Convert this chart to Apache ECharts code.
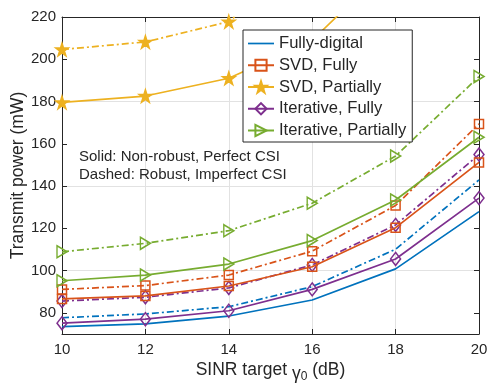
<!DOCTYPE html>
<html>
<head>
<meta charset="utf-8">
<script src="https://cdn.jsdelivr.net/npm/echarts@6/dist/echarts.min.js"></script>
<style>
html,body{margin:0;padding:0;background:#fff;}
#c{width:488px;height:387px;}
</style>
</head>
<body>
<div id="c"></div>
<script>
// ---- data ----
var snr = [10, 12, 14, 16, 18, 20];
var yTicks = [80, 100, 120, 140, 160, 180, 200, 220];
var fdSolid   = [73.5, 74.8, 78.5, 86.1, 100.8, 127.9];
var fdDash    = [77.7, 79.5, 82.9, 92.4, 110.1, 142.9];
var svdFSolid = [86.6, 88.0, 92.7, 101.8, 120.3, 151.2];
var svdFDash  = [91.1, 92.9, 97.9, 109.2, 130.8, 169.4];
var svdPSolid = [179.6, 182.6, 191.0, 209.0, 247, 290];
var svdPDash  = [204.6, 208.2, 217.8, 250, 290, 340];
var itFSolid  = [75.1, 77.0, 81.0, 91.1, 105.5, 134.3];
var itFDash   = [85.6, 87.4, 91.8, 102.7, 121.6, 154.9];
var itPSolid  = [95.2, 97.9, 103.1, 114.2, 133.4, 163.1];
var itPDash   = [108.9, 112.9, 118.9, 131.9, 154.2, 191.8];
var names = ['Fully-digital', 'SVD, Fully', 'SVD, Partially', 'Iterative, Fully', 'Iterative, Partially'];

var C = {blue:'#0072BD', orange:'#D95319', yellow:'#EDB120', purple:'#7E2F8E', green:'#77AC30'};
var TXT = '#262626';
var GRID = '#e2e2e2';
var FONT = "'Liberation Sans', Arial, Helvetica, sans-serif";
var STAR = 'path://M50,0 L61.2,34.5 L97.6,34.5 L68.2,55.9 L79.4,90.5 L50,69.1 L20.6,90.5 L31.8,55.9 L2.4,34.5 L38.8,34.5 Z';
var TRI_R = 'path://M0,0 L10,6 L0,12 Z';
var LINE_ICON = 'path://M0,0 L26,0 L26,1.7 L0,1.7 Z';
var DASHDOT = [7, 3, 2, 3];

function pts(arr){ return snr.map(function(x,i){ return [x, arr[i]]; }); }

function mk(name, arr, color, dashed, symbol, size, filled){
  return {
    type:'line', name:name, data:pts(arr),
    symbol: symbol || 'none', symbolSize: size || 8,
    showSymbol: !!symbol,
    lineStyle:{color:color, width:1.7, type: dashed ? DASHDOT : 'solid'},
    itemStyle:{color: filled ? color : 'rgba(255,255,255,0)', borderColor:color, borderWidth:1.5},
    emphasis:{disabled:true},
    clip:true, z: dashed ? 2 : 3
  };
}

var series = [
  mk(names[0], fdSolid, C.blue, false, null, 8, true),
  mk(names[1], svdFSolid, C.orange, false, 'rect', 9),
  mk(names[2], svdPSolid, C.yellow, false, STAR, 12.5, true),
  mk(names[3], itFSolid, C.purple, false, 'diamond', [10,13]),
  mk(names[4], itPSolid, C.green, false, TRI_R, [10,12]),
  mk(names[0]+' (robust)', fdDash, C.blue, true),
  mk(names[1]+' (robust)', svdFDash, C.orange, true, 'rect', 9),
  mk(names[2]+' (robust)', svdPDash, C.yellow, true, STAR, 12.5, true),
  mk(names[3]+' (robust)', itFDash, C.purple, true, 'diamond', [10,13]),
  mk(names[4]+' (robust)', itPDash, C.green, true, TRI_R, [10,12])
];

var axisLine = {show:true, onZero:false, lineStyle:{color:TXT, width:1}};

var legendData = names.map(function(n, i){
  if (i === 0) return {name:n, icon:LINE_ICON, itemStyle:{color:C.blue, borderWidth:0}};
  return {name:n};
});

var option = {
  animation:false,
  backgroundColor:'#fff',
  textStyle:{fontFamily:FONT},
  grid:{left:62, right:9, top:17, bottom:53, containLabel:false, outerBoundsMode:'none'},
  xAxis:[{
    type:'value', min:10, max:20, interval:2, position:'bottom',
    axisLine:axisLine,
    axisTick:{show:true, inside:true, length:5, lineStyle:{color:TXT}},
    axisLabel:{color:TXT, fontSize:15, margin:8, fontFamily:FONT},
    splitLine:{show:true, lineStyle:{color:GRID, width:1}},
    name:'{a|SINR target }{g|\u03b3}{s|0}{a| (dB)}', nameLocation:'middle', nameGap:23,
    nameMoveOverlap:false,
    nameTextStyle:{color:TXT, fontFamily:FONT, fontSize:17.5,
      rich:{
        a:{fontSize:17.5, color:TXT, fontFamily:FONT, lineHeight:26, verticalAlign:'middle'},
        g:{fontSize:17.5, color:TXT, fontFamily:FONT, lineHeight:22, verticalAlign:'bottom'},
        s:{fontSize:12, color:TXT, fontFamily:FONT, lineHeight:12, verticalAlign:'bottom'}
      }}
  },{
    type:'value', min:10, max:20, interval:2, position:'top',
    axisLine:axisLine,
    axisTick:{show:true, inside:true, length:5, lineStyle:{color:TXT}},
    axisLabel:{show:false}, splitLine:{show:false}
  }],
  yAxis:[{
    type:'value', min:70, max:220, interval:10, position:'left',
    axisLine:axisLine,
    axisTick:{show:true, inside:true, length:5, customValues:yTicks, lineStyle:{color:TXT}},
    axisLabel:{color:TXT, fontSize:15, margin:6, fontFamily:FONT, customValues:yTicks,
      formatter:function(v){ return (v % 20 === 0) ? String(v) : ''; }},
    splitLine:{show:true, lineStyle:{color:['rgba(0,0,0,0)', GRID], width:1}},
    name:'Transmit power (mW)', nameLocation:'middle', nameGap:35,
    nameMoveOverlap:false,
    nameTextStyle:{color:TXT, fontSize:17.5, fontFamily:FONT}
  },{
    type:'value', min:70, max:220, interval:10, position:'right',
    axisLine:axisLine,
    axisTick:{show:true, inside:true, length:5, customValues:yTicks, lineStyle:{color:TXT}},
    axisLabel:{show:false}, splitLine:{show:false}
  }],
  legend:{
    data:legendData, orient:'vertical', left:243, top:30, z:20,
    backgroundColor:'#fff', borderColor:TXT, borderWidth:1, borderRadius:0,
    padding:[5,6,3,4], itemGap:4.75, itemWidth:26, itemHeight:14,
    selectedMode:false,
    textStyle:{color:TXT, fontSize:16.6, fontFamily:FONT, lineHeight:16}
  },
  graphic:[
    {type:'text', x:79, y:157, z:10, style:{text:'Solid: Non-robust, Perfect CSI', fill:TXT, fontSize:15, fontFamily:FONT, verticalAlign:'middle'}},
    {type:'text', x:79, y:175, z:10, style:{text:'Dashed: Robust, Imperfect CSI', fill:TXT, fontSize:15, fontFamily:FONT, verticalAlign:'middle'}}
  ],
  series:series
};

var chart = echarts.init(document.getElementById('c'), null, {renderer:'canvas'});
chart.setOption(option);
</script>
</body>
</html>
